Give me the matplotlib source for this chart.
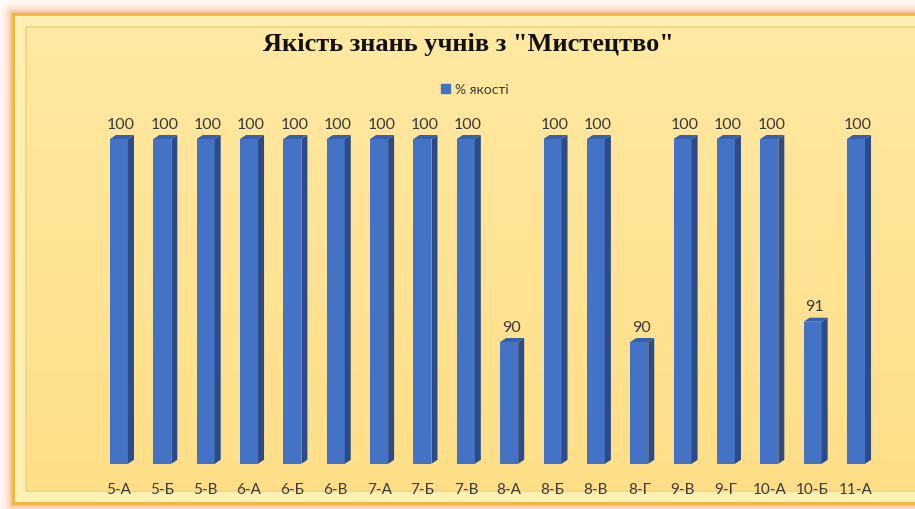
import numpy as np
import matplotlib
matplotlib.use('Agg')
import matplotlib.pyplot as plt
from matplotlib.patches import Polygon, Patch

# Data
classes = ['5-А', '5-Б', '5-В', '6-А', '6-Б', '6-В', '7-А', '7-Б', '7-В',
           '8-А', '8-Б', '8-В', '8-Г', '9-В', '9-Г', '10-А', '10-Б', '11-А']
quality = [100, 100, 100, 100, 100, 100, 100, 100, 100,
           90, 100, 100, 90, 100, 100, 100, 91, 100]
series_name = '% якості'
title = 'Якість знань учнів з "Мистецтво"'

W, H = 915, 510
sans = ['Lato', 'Noto Sans', 'DejaVu Sans']
front_c = '#4472C4'
side_c = '#2B4C88'
top_c = '#3760AC'
txt_c = '#3a3a3a'

fig = plt.figure(figsize=(W / 100, H / 100), dpi=100)

# background: glow + frame + gradient, built as an image in pixel coords
yy, xx = np.mgrid[0:H, 0:W].astype(float)
L, T, R, B = 12, 14, 940, 505
dx = np.maximum(np.maximum(L - xx, xx - R), 0)
dy = np.maximum(np.maximum(T - yy, yy - B), 0)
d = np.hypot(dx, dy)
img = np.ones((H, W, 3))
glow = np.array([249, 178, 128]) / 255
a = np.exp(-d / 5.0)[..., None]
img = img * (1 - a) + glow * a
inside = (xx >= L) & (xx <= R) & (yy >= T) & (yy <= B)
t = ((yy - T) / (B - T))[..., None]
top_col = np.array([255, 233, 163]) / 255
bot_col = np.array([255, 222, 135]) / 255
grad = top_col * (1 - t) + bot_col * t
img = np.where(inside[..., None], grad, img)
# bevel
inset = np.minimum.reduce([xx - L, yy - T, R - xx, B - yy])
bevel = inside & (inset < 13)
img[bevel] = np.array([255, 240, 180]) / 255
img[inside & (inset < 2.5)] = np.array([238, 184, 70]) / 255
img[inside & (inset >= 13) & (inset < 14.2)] = np.array([245, 214, 130]) / 255

bg = fig.add_axes([0, 0, 1, 1])
bg.imshow(img, extent=(0, W, H, 0), aspect='auto', interpolation='bilinear')
bg.set_xlim(0, W)
bg.set_ylim(H, 0)
bg.axis('off')

# plot axes
ymin, ymax = 84, 102
x = np.arange(len(classes))
left_px, right_px = 97.3, 877.7
bot_px, top_px = 464.8, 99.4
ax = fig.add_axes([left_px / W, 1 - bot_px / H, (right_px - left_px) / W, (bot_px - top_px) / H])
ax.set_xlim(-0.5, len(classes) - 0.5)
ax.set_ylim(ymin, ymax)
ax.patch.set_alpha(0)
for s in ax.spines.values():
    s.set_visible(False)

bw = 18 / 43.35
ddx = 6 / 43.35
ddy = 4 / 20.3
vals = np.array(quality, dtype=float)
ax.bar(x, vals - ymin, bottom=ymin, width=bw, color=front_c, zorder=3)
for xi, v in zip(x, vals):
    xl, xr = xi - bw / 2, xi + bw / 2
    ax.add_patch(Polygon([(xr, ymin), (xr + ddx, ymin + ddy), (xr + ddx, v + ddy), (xr, v)],
                         closed=True, color=side_c, zorder=3, lw=0))
    ax.add_patch(Polygon([(xl, v), (xl + ddx, v + ddy), (xr + ddx, v + ddy), (xr, v)],
                         closed=True, color=top_c, zorder=3, lw=0))
    ax.annotate(f'{v:g}', (xi, v), xytext=(1.5, 6), textcoords='offset points',
                ha='center', va='bottom', fontsize=11.5, color=txt_c, family=sans)

ax.set_xticks(x)
ax.set_xticklabels(classes, fontsize=11, color=txt_c, family=sans)
ax.tick_params(axis='x', length=0, pad=13)
ax.set_yticks([])

fig.text(468 / W, 1 - 45 / H, title, ha='center', va='center', fontsize=19,
         fontweight='bold', family='Liberation Serif', color='#111111')

fig.legend(handles=[Patch(color=front_c)], labels=[series_name], loc='center',
           bbox_to_anchor=(475 / W, 1 - 90 / H), frameon=False, fontsize=10,
           handlelength=0.6, handleheight=0.6, handletextpad=0.4,
           prop={'family': sans, 'size': 10})
for tx in fig.legends[0].get_texts():
    tx.set_color(txt_c)

fig.savefig('out.png', dpi=100)
